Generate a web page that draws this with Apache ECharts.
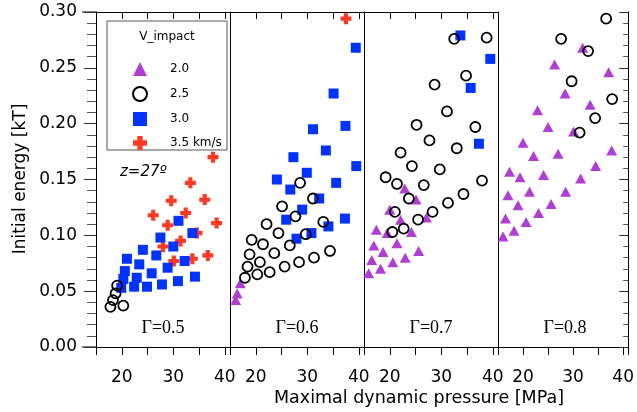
<!DOCTYPE html>
<html>
<head>
<meta charset="utf-8">
<script src="https://cdn.jsdelivr.net/npm/echarts@6/dist/echarts.min.js"></script>
<style>
  html, body { margin: 0; padding: 0; background: #fff; }
  #chart { width: 637px; height: 412px; }
</style>
</head>
<body>
<div id="chart"></div>
<script>
// panel labels and legend names
var gammaLabels = ['\u0393=0.5', '\u0393=0.6', '\u0393=0.7', '\u0393=0.8'];
var speedNames = ['2.0', '2.5', '3.0', '3.5 km/s'];
var yTicks = [0, 0.05, 0.10, 0.15, 0.20, 0.25, 0.30];
var xTickLabels = [20, 30, 40];

// [max dynamic pressure MPa, initial energy kT]
// Gamma = 0.5
var g05_v25 = [[19.1,0.055],[18.8,0.048],[18.3,0.042],[17.8,0.036],[20.3,0.037]];
var g05_v30 = [[21.0,0.079],[20.6,0.068],[20.3,0.061],[19.9,0.053],[22.4,0.054],[22.9,0.062],[23.4,0.074],
  [24.1,0.087],[24.9,0.054],[25.8,0.066],[26.7,0.082],[27.5,0.098],[27.8,0.056],[28.9,0.071],[30.0,0.090],
  [31.0,0.113],[30.9,0.059],[32.2,0.077],[33.7,0.102],[34.2,0.063]];
var g05_v35 = [[26.1,0.118],[29.6,0.131],[32.4,0.120],[28.9,0.109],[28.0,0.090],[31.4,0.095],[30.1,0.077],
  [33.7,0.079],[34.6,0.102],[36.1,0.132],[38.4,0.111],[36.7,0.082],[33.3,0.147],[37.7,0.170]];
// Gamma = 0.6
var g06_v20 = [[17.0,0.057],[16.4,0.048],[16.1,0.042]];
var g06_v25 = [[28.6,0.147],[31.1,0.133],[25.1,0.126],[27.7,0.117],[22.1,0.110],[33.1,0.112],[24.4,0.102],
  [29.7,0.101],[19.2,0.096],[21.4,0.092],[26.6,0.091],[18.8,0.083],[23.6,0.084],[20.8,0.076],[18.4,0.072],
  [28.4,0.076],[31.3,0.080],[34.4,0.086],[25.6,0.072],[22.7,0.067],[20.3,0.065],[17.9,0.062]];
var g06_v30 = [[39.4,0.268],[35.1,0.227],[31.1,0.195],[37.4,0.198],[27.3,0.170],[33.6,0.176],[39.5,0.162],
  [29.9,0.156],[24.1,0.150],[26.7,0.141],[35.6,0.147],[32.3,0.133],[29.0,0.123],[25.9,0.114],[37.3,0.115],
  [34.1,0.108],[30.8,0.102],[27.9,0.097]];
var g06_v35 = [[37.5,0.294]];
// Gamma = 0.7
var g07_v20 = [[22.9,0.142],[25.1,0.132],[20.0,0.123],[22.1,0.114],[27.1,0.116],[17.4,0.105],[19.5,0.102],
  [24.2,0.103],[16.9,0.091],[21.4,0.093],[18.7,0.085],[25.6,0.086],[16.5,0.078],[20.6,0.076],[23.0,0.080],
  [18.2,0.070],[15.9,0.066]];
var g07_v25 = [[32.5,0.276],[38.8,0.277],[34.8,0.243],[28.7,0.235],[31.1,0.211],[25.2,0.199],[36.6,0.197],
  [27.7,0.185],[33.0,0.178],[22.1,0.174],[24.3,0.162],[29.7,0.159],[19.2,0.152],[21.4,0.146],[26.6,0.145],
  [37.9,0.149],[23.7,0.133],[34.3,0.137],[31.3,0.129],[28.3,0.121],[21.0,0.121],[25.5,0.114],[22.7,0.106],
  [20.5,0.103]];
var g07_v30 = [[33.7,0.279],[39.5,0.258],[35.7,0.232],[37.3,0.182]];
// Gamma = 0.8
var g08_v20 = [[31.9,0.268],[26.3,0.253],[37.1,0.246],[28.4,0.227],[22.9,0.212],[33.4,0.217],[25.0,0.197],
  [30.1,0.193],[20.0,0.183],[22.1,0.171],[27.0,0.173],[37.7,0.176],[34.5,0.162],[17.3,0.157],[19.4,0.152],
  [24.1,0.154],[31.5,0.151],[17.0,0.136],[21.3,0.139],[28.5,0.139],[19.0,0.127],[25.6,0.128],[16.5,0.115],
  [23.1,0.120],[20.6,0.112],[18.2,0.104],[16.0,0.099]];
var g08_v25 = [[36.6,0.294],[27.6,0.276],[33.0,0.265],[29.7,0.238],[37.8,0.222],[34.4,0.205],[31.3,0.192]];

// per panel: [v2.0, v2.5, v3.0, v3.5]
var panels = [
  [[], g05_v25, g05_v30, g05_v35],
  [g06_v20, g06_v25, g06_v30, g06_v35],
  [g07_v20, g07_v25, g07_v30, []],
  [g08_v20, g08_v25, [], []]
];

var FONT = 'DejaVu Sans';
var PLUS = 'path://M3.1,0H6.9V3.1H10V6.9H6.9V10H3.1V6.9H0V3.1H3.1Z';
var styles = [
  { symbol: 'triangle', symbolSize: [11, 10], itemStyle: { color: '#b13ed4', opacity: 1 } },
  { symbol: 'circle', symbolSize: 10, itemStyle: { color: 'rgba(255,255,255,0)', borderColor: '#000', borderWidth: 1.8, opacity: 1 } },
  { symbol: 'rect', symbolSize: 10, itemStyle: { color: '#0033ff', opacity: 1 } },
  { symbol: PLUS, symbolSize: 11, itemStyle: { color: '#ff3a24', opacity: 1 } }
];
// draw order: plus, triangle, square, circle on top
var drawOrder = [3, 0, 2, 1];

var PL = 96, PW = 134, PT = 12, PH = 335;

var chart = echarts.init(document.getElementById('chart'));

var grid = [], xAxis = [], yAxis = [], series = [], graphic = [];
for (var i = 0; i < 4; i++) {
  grid.push({ left: PL + i * PW, top: PT, width: PW, height: PH });
  xAxis.push({
    gridIndex: i, type: 'value', min: 15, max: 41, interval: 5, position: 'bottom',
    axisLine: { lineStyle: { color: '#000', width: 1 } },
    axisTick: { length: 8, lineStyle: { color: '#000' } },
    axisLabel: {
      margin: 22, fontSize: 17, fontFamily: FONT, color: '#000',
      formatter: function (v) { return xTickLabels.indexOf(v) >= 0 ? String(v) : ''; }
    },
    splitLine: { show: false }
  });
  yAxis.push({
    gridIndex: i, type: 'value', min: 0, max: 0.3, interval: 0.05, position: 'left',
    axisLine: { show: true, lineStyle: { color: '#000', width: 1 } },
    axisTick: { show: i === 0, length: 12, lineStyle: { color: '#333' } },
    minorTick: { show: i === 0, splitNumber: 5, length: 9, lineStyle: { color: '#555' } },
    axisLabel: {
      show: i === 0, margin: 19, fontSize: 17, fontFamily: FONT, color: '#000',
      formatter: function (v) { return v.toFixed(2); }
    },
    splitLine: { show: false }
  });
}
for (var i = 0; i < 4; i++) {
  xAxis.push({
    gridIndex: i, type: 'value', min: 15, max: 41, interval: 5, position: 'top',
    axisLine: { lineStyle: { color: '#000', width: 1 } },
    axisTick: { inside: true, length: 7, lineStyle: { color: '#000' } },
    axisLabel: { show: false },
    splitLine: { show: false }
  });
}
yAxis.push({
  gridIndex: 3, type: 'value', min: 0, max: 0.3, interval: 0.05, position: 'right',
  axisLine: { show: true, lineStyle: { color: '#000', width: 1 } },
  axisTick: { inside: true, length: 9, lineStyle: { color: '#333' } },
  minorTick: { show: true, splitNumber: 5, length: 5, lineStyle: { color: '#555' } },
  axisLabel: { show: false },
  splitLine: { show: false }
});

for (var i = 0; i < 4; i++) {
  drawOrder.forEach(function (k) {
    var s = styles[k];
    series.push({
      name: speedNames[k], type: 'scatter', xAxisIndex: i, yAxisIndex: i,
      symbol: s.symbol, symbolSize: s.symbolSize, itemStyle: s.itemStyle,
      data: panels[i][k], silent: true, animation: false
    });
  });
  graphic.push({
    type: 'text', x: PL + i * PW + PW / 2, y: 328, z: 5,
    style: { text: gammaLabels[i], font: '18px "Liberation Serif"', fill: '#000',
      textAlign: 'center', textVerticalAlign: 'middle' }
  });
}

// frame lines run a bit past the left axis
graphic.push({ type: 'line', shape: { x1: 82, y1: PT, x2: PL, y2: PT }, style: { stroke: '#000', lineWidth: 1 } });
graphic.push({ type: 'line', shape: { x1: 82, y1: PT + PH, x2: PL, y2: PT + PH }, style: { stroke: '#000', lineWidth: 1 } });
// legend box + title
graphic.push({ type: 'rect', z: 3, shape: { x: 107, y: 21, width: 120, height: 129 },
  style: { fill: '#fff', stroke: '#555', lineWidth: 1 } });
graphic.push({ type: 'text', x: 167, y: 37, z: 5,
  style: { text: 'V_impact', font: '12px "DejaVu Sans"', fill: '#000', textAlign: 'center', textVerticalAlign: 'middle' } });
graphic.push({ type: 'text', x: 120, y: 172, z: 5,
  style: { text: 'z=27\u00ba', font: 'italic 15px "DejaVu Sans"', fill: '#000', textAlign: 'left', textVerticalAlign: 'middle' } });
// axis titles
graphic.push({ type: 'text', x: 21, y: 179, rotation: Math.PI / 2, z: 5,
  style: { text: 'Initial energy [kT]', font: '17px "DejaVu Sans"', fill: '#000', textAlign: 'center', textVerticalAlign: 'middle' } });
graphic.push({ type: 'text', x: 419, y: 398, z: 5,
  style: { text: 'Maximal dynamic pressure [MPa]', font: '17.5px "DejaVu Sans"', fill: '#000', textAlign: 'center', textVerticalAlign: 'middle' } });

chart.setOption({
  backgroundColor: '#fff',
  animation: false,
  grid: grid,
  xAxis: xAxis,
  yAxis: yAxis,
  legend: {
    orient: 'vertical', left: 127, top: 57, itemWidth: 14, itemHeight: 14, itemGap: 10,
    data: speedNames, selectedMode: false, z: 6,
    textStyle: { fontSize: 12, fontFamily: FONT, color: '#000', padding: [0, 0, 0, 18] }
  },
  graphic: graphic,
  series: series
});
</script>
</body>
</html>
